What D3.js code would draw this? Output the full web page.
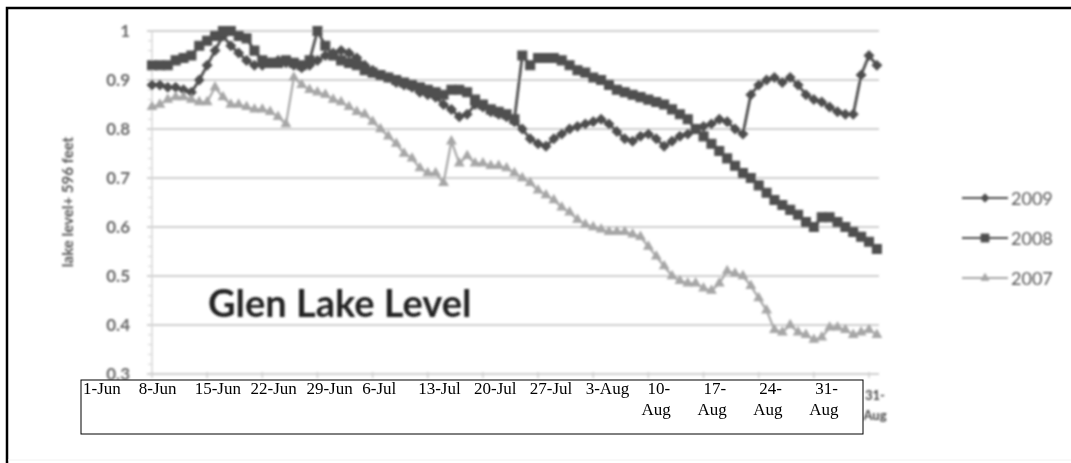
<!DOCTYPE html>
<html>
<head>
<meta charset="utf-8">
<script src="https://cdn.jsdelivr.net/npm/d3@7"></script>
<style>
  body { margin: 0; background: #fff; }
  svg { display: block; }
</style>
</head>
<body>
<div id="chart"></div>
<script>
// daily readings, 1-Jun .. 2-Sep (lake level above 596 ft)
const startDay = "2009-06-01";
const series2009 = [0.89, 0.89, 0.885, 0.885, 0.88, 0.875, 0.90, 0.93, 0.96, 0.99,
  0.97, 0.955, 0.94, 0.93, 0.93, 0.935, 0.94, 0.935, 0.93, 0.925,
  0.93, 0.94, 0.95, 0.955, 0.96, 0.955, 0.945, 0.93, 0.92, 0.91,
  0.905, 0.895, 0.89, 0.885, 0.875, 0.87, 0.865, 0.85, 0.84, 0.825,
  0.83, 0.85, 0.845, 0.835, 0.83, 0.825, 0.815, 0.80, 0.78, 0.77,
  0.765, 0.78, 0.79, 0.80, 0.805, 0.81, 0.815, 0.82, 0.81, 0.795,
  0.78, 0.775, 0.785, 0.79, 0.78, 0.765, 0.775, 0.785, 0.79, 0.80,
  0.805, 0.81, 0.82, 0.815, 0.80, 0.79, 0.87, 0.89, 0.90, 0.905,
  0.895, 0.905, 0.89, 0.87, 0.86, 0.855, 0.845, 0.835, 0.83, 0.83,
  0.91, 0.95, 0.93];
const series2008 = [0.93, 0.93, 0.93, 0.94, 0.945, 0.95, 0.97, 0.98, 0.99, 1.0,
  1.0, 0.99, 0.985, 0.96, 0.94, 0.935, 0.935, 0.94, 0.935, 0.93,
  0.94, 1.0, 0.97, 0.95, 0.94, 0.935, 0.93, 0.92, 0.915, 0.91,
  0.905, 0.90, 0.895, 0.89, 0.885, 0.88, 0.875, 0.87, 0.88, 0.88,
  0.875, 0.86, 0.85, 0.84, 0.835, 0.83, 0.82, 0.95, 0.93, 0.945,
  0.945, 0.945, 0.94, 0.93, 0.92, 0.915, 0.905, 0.90, 0.89, 0.88,
  0.875, 0.87, 0.865, 0.86, 0.855, 0.85, 0.84, 0.83, 0.82, 0.80,
  0.785, 0.77, 0.755, 0.74, 0.725, 0.71, 0.70, 0.685, 0.67, 0.655,
  0.645, 0.635, 0.625, 0.61, 0.60, 0.62, 0.62, 0.61, 0.60, 0.59,
  0.58, 0.57, 0.555];
const series2007 = [0.845, 0.85, 0.86, 0.865, 0.865, 0.86, 0.855, 0.855, 0.885, 0.865,
  0.85, 0.85, 0.845, 0.84, 0.84, 0.835, 0.825, 0.81, 0.905, 0.89,
  0.88, 0.875, 0.87, 0.86, 0.855, 0.845, 0.835, 0.83, 0.815, 0.80,
  0.785, 0.77, 0.75, 0.74, 0.72, 0.71, 0.71, 0.69, 0.775, 0.73,
  0.745, 0.73, 0.73, 0.725, 0.725, 0.72, 0.71, 0.70, 0.69, 0.675,
  0.665, 0.655, 0.64, 0.63, 0.615, 0.605, 0.60, 0.595, 0.59, 0.59,
  0.59, 0.585, 0.58, 0.56, 0.54, 0.52, 0.50, 0.49, 0.485, 0.485,
  0.475, 0.47, 0.485, 0.51, 0.505, 0.50, 0.48, 0.455, 0.43, 0.39,
  0.385, 0.40, 0.385, 0.38, 0.37, 0.375, 0.395, 0.395, 0.39, 0.38,
  0.385, 0.39, 0.38];
const seriesNames = ["2009", "2008", "2007"];
const yTicks = [0.3, 0.4, 0.5, 0.6, 0.7, 0.8, 0.9, 1];
// pasted-over label table (two-line cells wrap)
const boxLabels = [["1-Jun"], ["8-Jun"], ["15-Jun"], ["22-Jun"], ["29-Jun"], ["6-Jul"],
  ["13-Jul"], ["20-Jul"], ["27-Jul"], ["3-Aug"], ["10-", "Aug"], ["17-", "Aug"],
  ["24-", "Aug"], ["31-", "Aug"]];

const W = 1071, H = 463;
const svg = d3.select("#chart").append("svg").attr("width", W).attr("height", H);

svg.append("defs").append("filter").attr("id", "soft")
  .append("feGaussianBlur").attr("stdDeviation", 0.9);

const t0 = new Date(startDay + "T00:00:00Z");
const dates = series2009.map((_, i) => d3.utcDay.offset(t0, i));
const x = d3.scaleUtc()
  .domain([t0, d3.utcDay.offset(t0, 91)])
  .range([152, 869]);
const y = d3.scaleLinear().domain([0.3, 1]).range([374, 31]);
const weekTicks = d3.utcDay.range(t0, d3.utcDay.offset(t0, 92), 7);
const boxRight = 863;

const g = svg.append("g").attr("filter", "url(#soft)");

// gridlines
g.selectAll(".grid").data(yTicks).join("line")
  .attr("x1", 147).attr("x2", 879)
  .attr("y1", d => y(d)).attr("y2", d => y(d))
  .attr("stroke", "#cfcfcf").attr("stroke-width", 2);

// y axis with minor ticks
g.append("line").attr("x1", 152).attr("x2", 152).attr("y1", y(1)).attr("y2", y(0.3))
  .attr("stroke", "#d6d6d6").attr("stroke-width", 1.5);
g.selectAll(".minor").data(d3.range(0.3, 1.001, 0.02)).join("line")
  .attr("x1", 148).attr("x2", 152)
  .attr("y1", d => y(d)).attr("y2", d => y(d))
  .attr("stroke", "#d0d0d0").attr("stroke-width", 1);
g.selectAll(".ylab").data(yTicks).join("text")
  .attr("x", 130).attr("y", d => y(d) + 6)
  .attr("text-anchor", "end")
  .attr("font-family", "Lato").attr("font-weight", "bold").attr("font-size", 17)
  .attr("fill", "#666")
  .text(d => d === 1 ? "1" : d.toFixed(1));

g.append("text")
  .attr("transform", "translate(73,202) rotate(-90)")
  .attr("text-anchor", "middle")
  .attr("font-family", "Lato").attr("font-weight", "bold").attr("font-size", 15)
  .attr("fill", "#555")
  .text("lake level+ 596 feet");

// x axis ticks
g.selectAll(".xt").data(weekTicks).join("line")
  .attr("x1", d => x(d)).attr("x2", d => x(d)).attr("y1", 372).attr("y2", 378)
  .attr("stroke", "#cfcfcf").attr("stroke-width", 1.5);
// original axis label: only the one sticking out past the pasted box shows
const fmtDay = d3.utcFormat("%-d-"), fmtMon = d3.utcFormat("%b");
const xl = g.selectAll(".xl").data(weekTicks.filter(d => x(d) > boxRight - 20)).join("text")
  .attr("text-anchor", "middle")
  .attr("font-family", "Lato").attr("font-weight", "bold").attr("font-size", 13)
  .attr("fill", "#444");
xl.append("tspan").attr("x", d => x(d) + 6).attr("y", 400).text(fmtDay);
xl.append("tspan").attr("x", d => x(d) + 6).attr("y", 420).text(fmtMon);

// series
const series = [
  { name: seriesNames[0], values: series2009, color: "#4e4e4e", width: 2.8, shape: d3.symbolDiamond2, size: 55 },
  { name: seriesNames[1], values: series2008, color: "#505050", width: 2.8, shape: d3.symbolSquare2, size: 100 },
  { name: seriesNames[2], values: series2007, color: "#a6a6a6", width: 2.2, shape: d3.symbolTriangle2, size: 55 }
];
const line = d3.line().x((d, i) => x(dates[i])).y(d => y(d));

series.forEach(s => {
  g.append("path").datum(s.values)
    .attr("d", line).attr("fill", "none")
    .attr("stroke", s.color).attr("stroke-width", s.width);
  g.selectAll(null).data(s.values).join("path")
    .attr("transform", (d, i) => `translate(${x(dates[i])},${y(d)})`)
    .attr("d", d3.symbol().type(s.shape).size(s.size))
    .attr("fill", s.color).attr("stroke", s.color).attr("stroke-width", 1.2);
});

// legend
const leg = g.selectAll(".leg").data(series).join("g")
  .attr("transform", (d, i) => `translate(962,${198 + i * 40})`);
leg.append("line").attr("x1", 0).attr("x2", 46)
  .attr("stroke", d => d.color).attr("stroke-width", 2.2);
leg.append("path").attr("transform", "translate(23,0)")
  .attr("d", d => d3.symbol().type(d.shape).size(d.size * 0.8)())
  .attr("fill", d => d.color).attr("stroke", d => d.color);
leg.append("text").attr("x", 49).attr("y", 7)
  .attr("font-family", "Lato").attr("font-size", 18).attr("fill", "#555")
  .text(d => d.name);

// chart title
g.append("text").attr("x", 208).attr("y", 317)
  .attr("font-family", "Lato").attr("font-weight", "bold").attr("font-size", 38)
  .attr("fill", "#222")
  .text("Glen Lake Level");

// outer frame: only top and left edges show
svg.append("path").attr("d", "M7,463V8H1071")
  .attr("fill", "none").attr("stroke", "#000").attr("stroke-width", 2.5);
svg.append("line").attr("x1", 8).attr("x2", 1071).attr("y1", 460).attr("y2", 460)
  .attr("stroke", "#f2f2f2").attr("stroke-width", 1);

// pasted label box
const box = svg.append("g");
const bx = d3.scaleBand().domain(d3.range(boxLabels.length)).range([81, boxRight]);
box.append("rect").attr("x", 81).attr("y", 380).attr("width", boxRight - 81).attr("height", 54)
  .attr("fill", "#fff").attr("stroke", "#000").attr("stroke-width", 1);
const bl = box.selectAll(".bl").data(boxLabels).join("text")
  .attr("font-family", "Liberation Serif").attr("font-size", 17).attr("fill", "#000");
bl.selectAll("tspan").data((d, i) => d.map((t, j) => ({ t, j, i, n: d.length }))).join("tspan")
  .attr("x", d => bx(d.i) + 2 + (d.n > 1 && d.j === 0 ? 6 : 0))
  .attr("y", d => 394 + d.j * 21)
  .text(d => d.t);
</script>
</body>
</html>
